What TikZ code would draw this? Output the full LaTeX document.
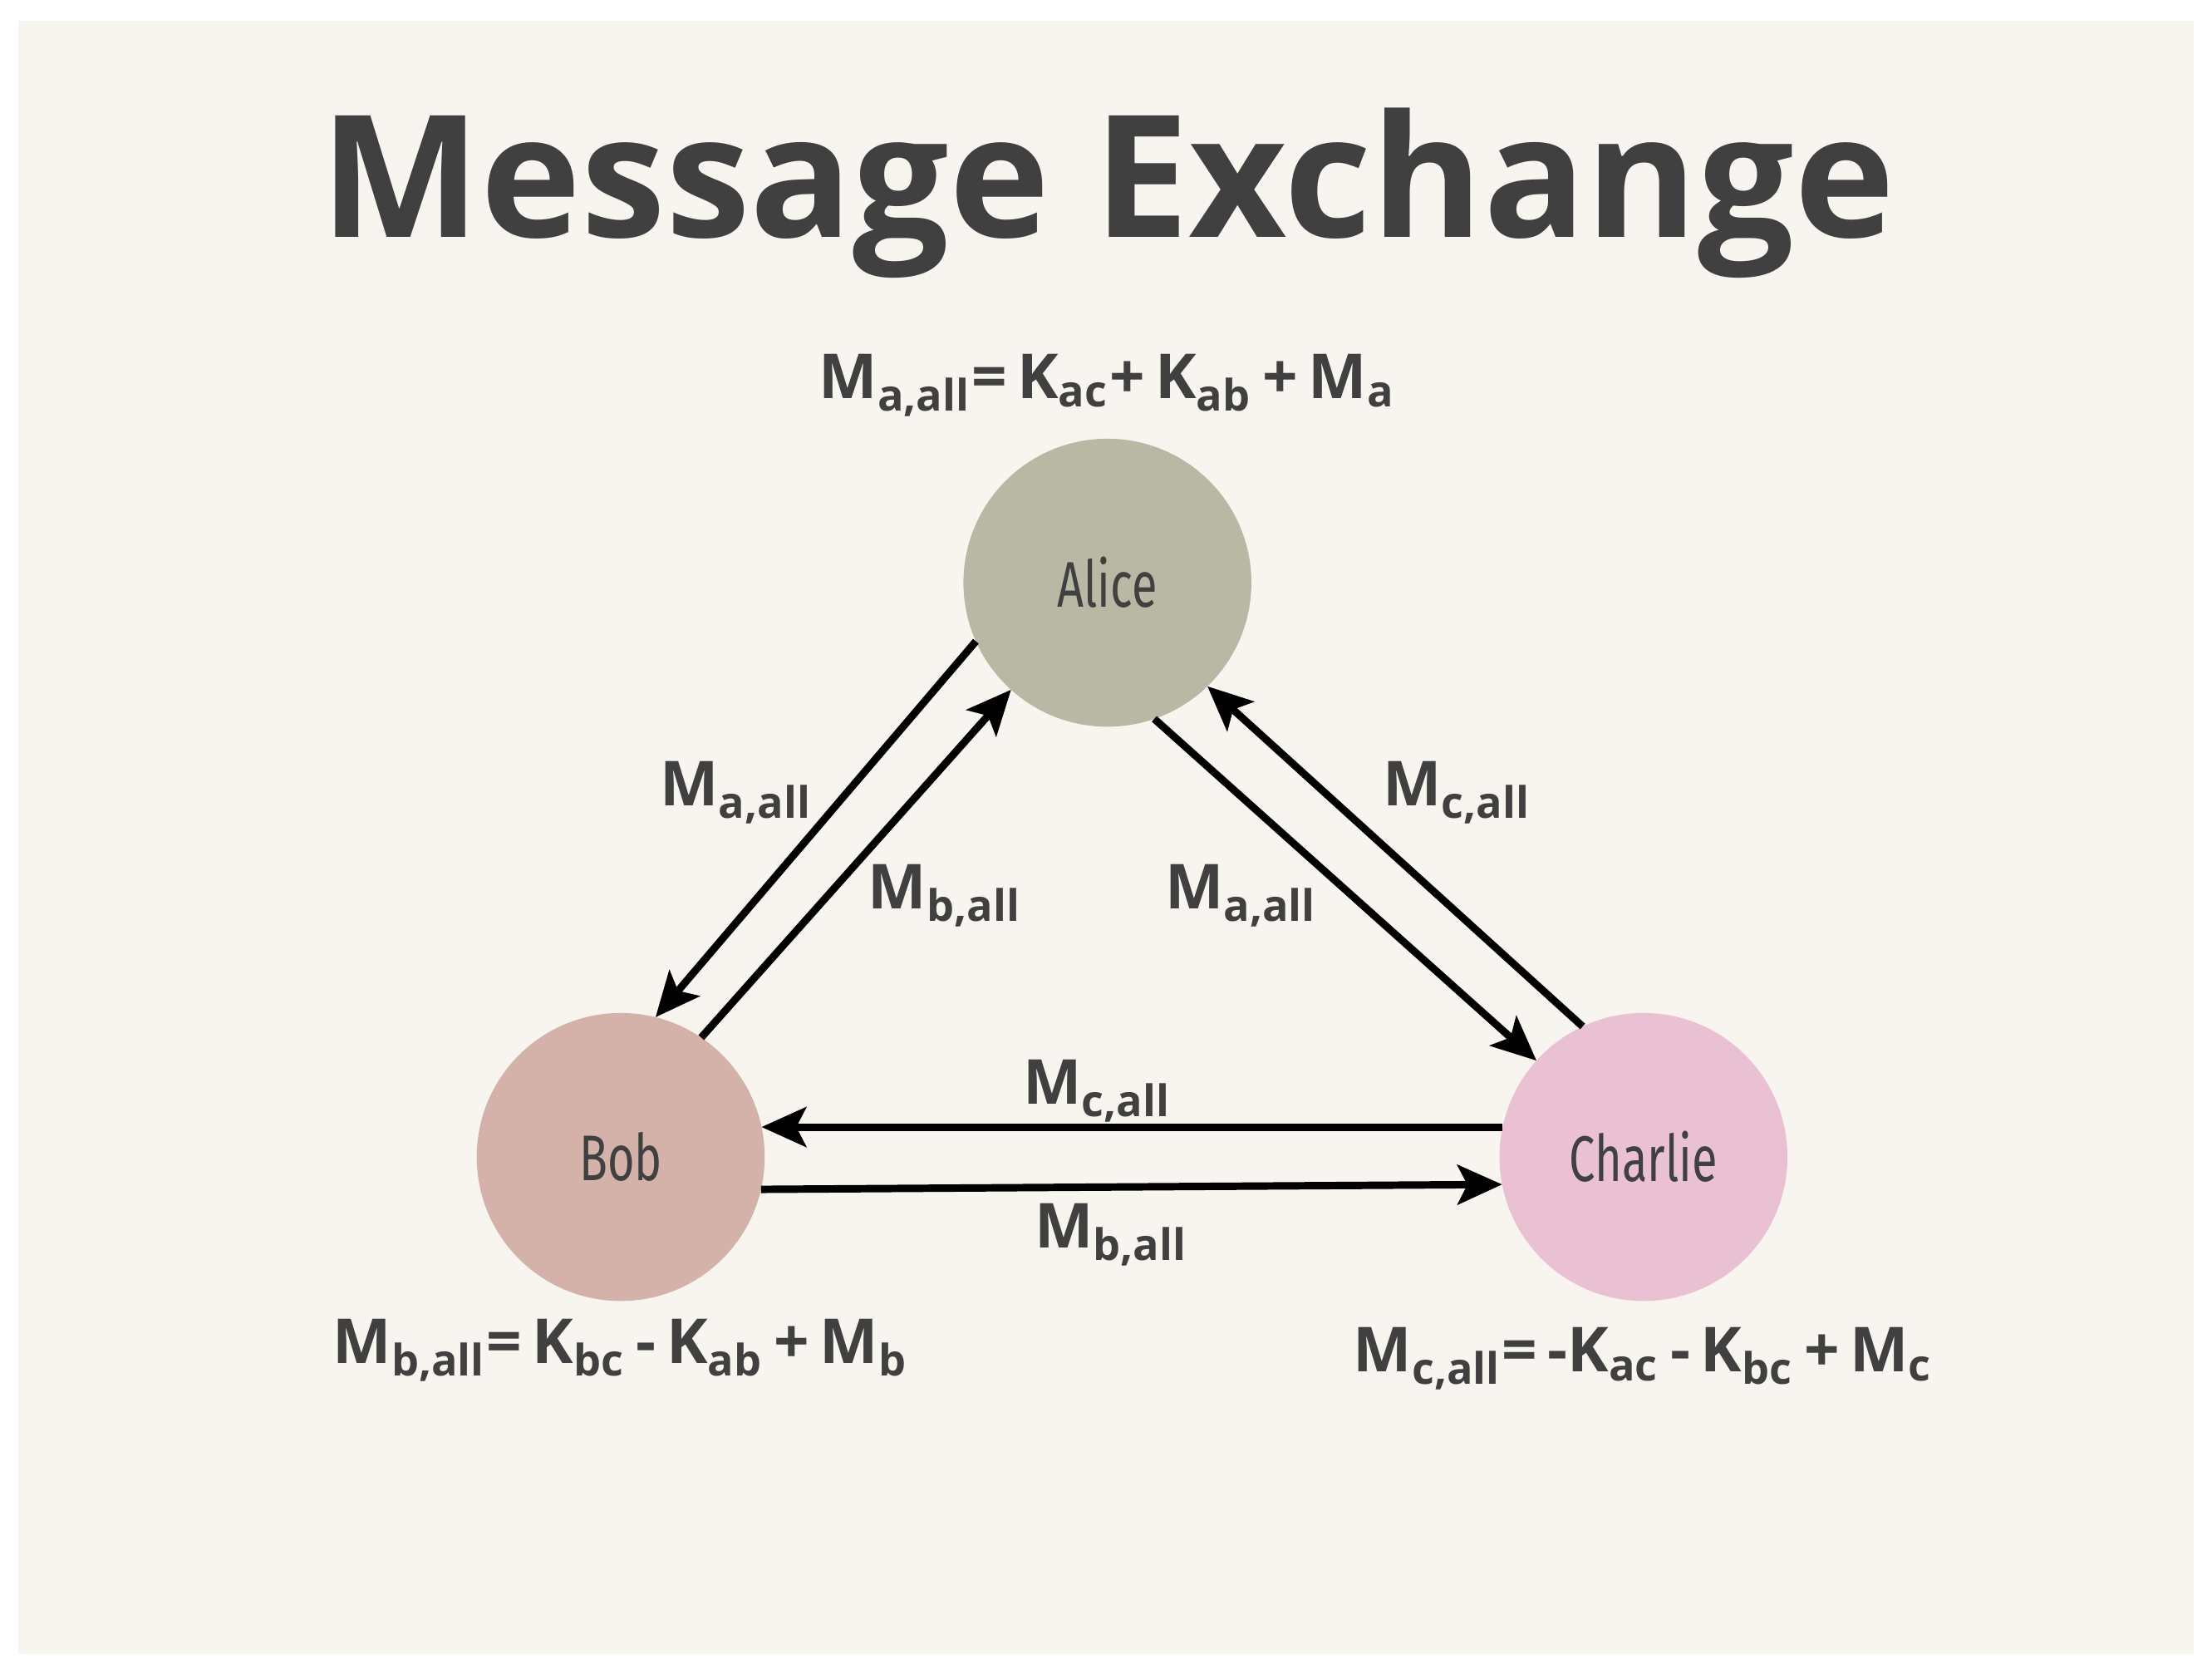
\documentclass[tikz,border=0pt]{standalone}
\usepackage{fontspec}
\setmainfont{Open Sans}
\newfontfamily\namefont{Fira Sans}[FakeStretch=0.72]
\usetikzlibrary{arrows.meta}
\definecolor{bgpaper}{HTML}{F8F4EF}
\definecolor{inkgrey}{HTML}{404040}
\definecolor{alicecol}{HTML}{B9B8A4}
\definecolor{bobcol}{HTML}{D4B2A9}
\definecolor{charliecol}{HTML}{EAC1D3}
\newcommand{\msg}[1]{M\textsubscript{#1}}
\tikzset{
  party/.style={circle, minimum size=2.04cm, inner sep=0pt, outer sep=0pt,
                font=\namefont\fontsize{13}{15}\selectfont, text=inkgrey},
  msglabel/.style={font=\bfseries\fontsize{12.5}{15}\selectfont, text=inkgrey},
  flow/.style={line width=1.5pt, -{Stealth[length=9pt, width=8pt, inset=2pt]}}
}
\begin{document}
\begin{tikzpicture}[x=0.01cm, y=-0.01cm]
\useasboundingbox (0,0) rectangle (1568,1189);
\fill[white] (0,0) rectangle (1568,1189);
\fill[bgpaper] (13,15) rectangle (1555,1172);
% title
\node[font=\bfseries\fontsize{34.3}{38}\selectfont, text=inkgrey] (title) at (785,137) {Message Exchange};
% parties
\node[party, fill=alicecol] (alice) at (785,413) {Alice};
\node[party, fill=bobcol] (bob) at (440,820) {Bob};
\node[party, fill=charliecol] (charlie) at (1165,820) {Charlie};
% exchanges
\draw[flow] (alice.204) -- (bob.76);
\draw[flow] (bob.56) -- (alice.228);
\draw[flow] (alice.289) -- (charlie.138);
\draw[flow] (charlie.115) -- (alice.314);
\draw[flow] (charlie.168) -- (bob.12);
\draw[flow] (bob.347) -- (charlie.191);
% labels
\node[msglabel] (lab) at (522,562) {\msg{a,all}};
\node[msglabel] (lba) at (670,635) {\msg{b,all}};
\node[msglabel] (lca) at (1033,562) {\msg{c,all}};
\node[msglabel] (lac) at (880,635) {\msg{a,all}};
\node[msglabel] (lcb) at (778,773) {\msg{c,all}};
\node[msglabel] (lbc) at (788,875) {\msg{b,all}};
% sums
\node[msglabel] (suma) at (785,273) {M\textsubscript{a,all}=\,K\textsubscript{ac}+\,K\textsubscript{ab}\,+\,M\textsubscript{a}};
\node[msglabel] (sumb) at (440,957) {M\textsubscript{b,all}=\,K\textsubscript{bc}\,-\,K\textsubscript{ab}\,+\,M\textsubscript{b}};
\node[msglabel] (sumc) at (1165,963) {M\textsubscript{c,all}=\,-K\textsubscript{ac}\,-\,K\textsubscript{bc}\,+\,M\textsubscript{c}};
\end{tikzpicture}
\end{document}
